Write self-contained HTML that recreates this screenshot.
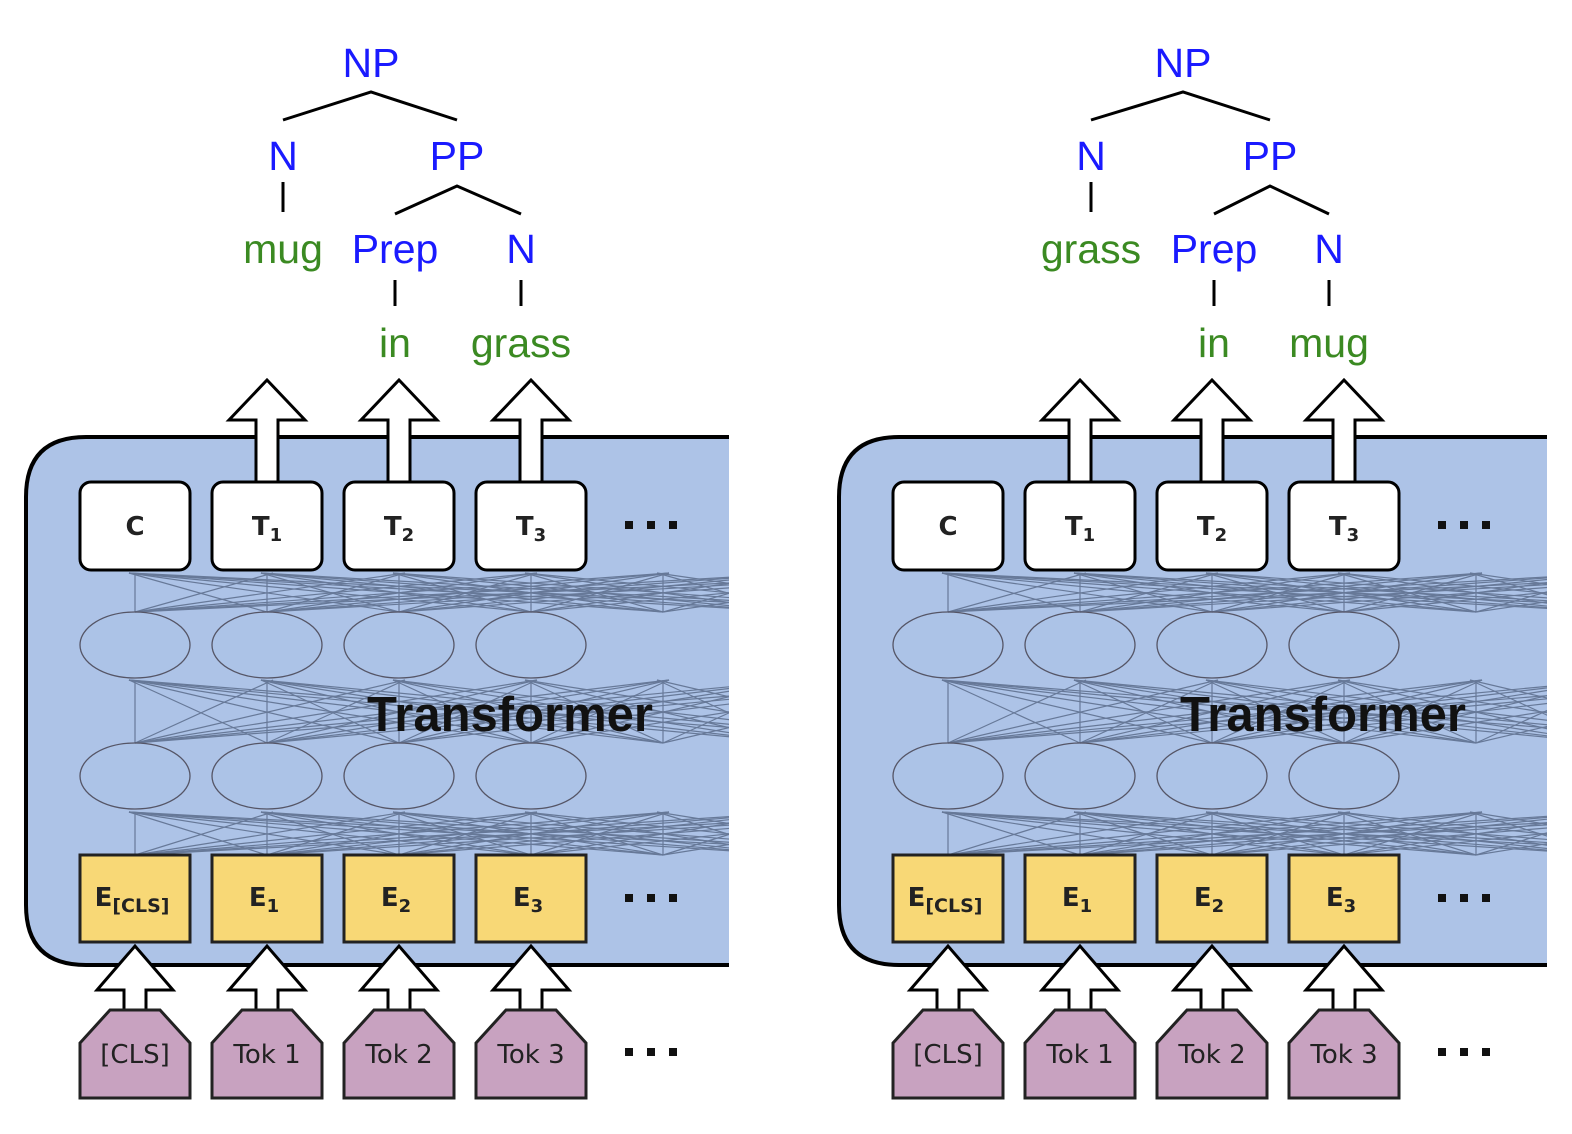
<!DOCTYPE html>
<html><head><meta charset="utf-8">
<style>
html,body{margin:0;padding:0;background:#fff;}
svg{display:block;}
.t{font-family:"Liberation Sans",sans-serif;font-size:41px;text-anchor:middle;}
.b{fill:#1a1aff}
.g{fill:#3b8a22}
.lab{font-family:"DejaVu Sans","Liberation Sans",sans-serif;font-size:26px;text-anchor:middle;fill:#222;}
</style></head>
<body>
<svg id="s" width="1572" height="1134" viewBox="0 0 1572 1134" xmlns="http://www.w3.org/2000/svg">
<defs>
<clipPath id="cl"><rect x="0" y="370" width="729" height="760"/></clipPath>
<clipPath id="cr"><rect x="813" y="370" width="734" height="760"/></clipPath>
</defs>
<g stroke="#000" stroke-width="3" fill="none">
<path d="M283 120 L371 92 L457 120"/>
<path d="M283 182 V212"/>
<path d="M395 214 L457 186 L521 214"/>
<path d="M395 280 V306 M521 280 V306"/>
</g>
<text class="t b" x="371" y="77">NP</text>
<text class="t b" x="283" y="170">N</text>
<text class="t b" x="457" y="170">PP</text>
<text class="t g" x="283" y="263">mug</text>
<text class="t b" x="395" y="263">Prep</text>
<text class="t b" x="521" y="263">N</text>
<text class="t g" x="395" y="357">in</text>
<text class="t g" x="521" y="357">grass</text>
<g stroke="#000" stroke-width="3" fill="none">
<path d="M1091 120 L1183 92 L1270 120"/>
<path d="M1091 182 V212"/>
<path d="M1214 214 L1270 186 L1329 214"/>
<path d="M1214 280 V306 M1329 280 V306"/>
</g>
<text class="t b" x="1183" y="77">NP</text>
<text class="t b" x="1091" y="170">N</text>
<text class="t b" x="1270" y="170">PP</text>
<text class="t g" x="1091" y="263">grass</text>
<text class="t b" x="1214" y="263">Prep</text>
<text class="t b" x="1329" y="263">N</text>
<text class="t g" x="1214" y="357">in</text>
<text class="t g" x="1329" y="357">mug</text>

<g id="L" clip-path="url(#cl)"></g>
<g id="R" clip-path="url(#cr)"></g>
</svg>
<script>
(function(){
function build(gid,dx,right){
  var g=document.getElementById(gid), h="";
  var cols=[135,267,399,531,663,795,927];
  var R=right;
  h+='<path d="M'+(R+20)+' 437 H86 Q26 437 26 497 V905 Q26 965 86 965 H'+(R+20)+'" fill="#adc3e7" stroke="#000" stroke-width="4"/>';
  var layers=[[855,812],[743,680],[612,573]];
  h+='<g stroke="#4a5a78" stroke-width="1.2" opacity="0.7" fill="none">';
  layers.forEach(function(L){
    for(var i=0;i<cols.length;i++)for(var j=0;j<cols.length;j++){
      if(i>4&&j>4)continue;
      h+='<line x1="'+cols[i]+'" y1="'+L[0]+'" x2="'+(cols[j]+(i<j?6:(i>j?-6:0)))+'" y2="'+L[1]+'"/>';
    }
  });
  h+='</g>';
  for(var k=0;k<4;k++){
    h+='<ellipse cx="'+cols[k]+'" cy="645" rx="55" ry="33" fill="#adc3e7" fill-opacity="0.35" stroke="#556" stroke-width="1.3"/>';
    h+='<ellipse cx="'+cols[k]+'" cy="776" rx="55" ry="33" fill="#adc3e7" fill-opacity="0.35" stroke="#556" stroke-width="1.3"/>';
  }
  var tl=["C","T<tspan font-size='18' dy='6'>1</tspan>","T<tspan font-size='18' dy='6'>2</tspan>","T<tspan font-size='18' dy='6'>3</tspan>"];
  var el=["E<tspan font-size='19' dy='6'>[CLS]</tspan>","E<tspan font-size='18' dy='6'>1</tspan>","E<tspan font-size='18' dy='6'>2</tspan>","E<tspan font-size='18' dy='6'>3</tspan>"];
  var tk=["[CLS]","Tok 1","Tok 2","Tok 3"];
  for(var k=0;k<4;k++){
    var c=cols[k];
    if(k>0) h+='<path d="M'+(c-11)+' 484 V420 H'+(c-38)+' L'+c+' 380 L'+(c+38)+' 420 H'+(c+11)+' V484 Z" fill="#fff" stroke="#000" stroke-width="3"/>';
    h+='<rect x="'+(c-55)+'" y="482" width="110" height="88" rx="11" fill="#fff" stroke="#000" stroke-width="3"/>';
    h+='<text class="lab" x="'+c+'" y="535" font-weight="bold">'+tl[k]+'</text>';
    h+='<path d="M'+(c-11)+' 1012 V990 H'+(c-38)+' L'+c+' 946 L'+(c+38)+' 990 H'+(c+11)+' V1012 Z" fill="#fff" stroke="#000" stroke-width="3"/>';
    h+='<rect x="'+(c-55)+'" y="855" width="110" height="87" fill="#f8d876" stroke="#222" stroke-width="3"/>';
    h+='<text class="lab" x="'+(c-3)+'" y="906" font-weight="bold">'+el[k]+'</text>';
    h+='<path d="M'+(c-55)+' 1043 L'+(c-25)+' 1010 H'+(c+25)+' L'+(c+55)+' 1043 V1098 H'+(c-55)+' Z" fill="#c8a2c0" stroke="#222" stroke-width="3"/>';
    h+='<text class="lab" x="'+c+'" y="1063" font-size="27">'+tk[k]+'</text>';
  }
  [525,898,1052].forEach(function(y){
    for(var d=0;d<3;d++) h+='<rect x="'+(625+d*22)+'" y="'+(y-4)+'" width="8" height="8" fill="#111"/>';
  });
  h+='<text x="510" y="731" font-family="Liberation Sans,sans-serif" font-weight="bold" font-size="49" text-anchor="middle" fill="#111">Transformer</text>';
  g.innerHTML='<g transform="translate('+dx+',0)">'+h+'</g>';
}
build("L",0,728);
build("R",813,733);
})();
</script>
</body></html>
